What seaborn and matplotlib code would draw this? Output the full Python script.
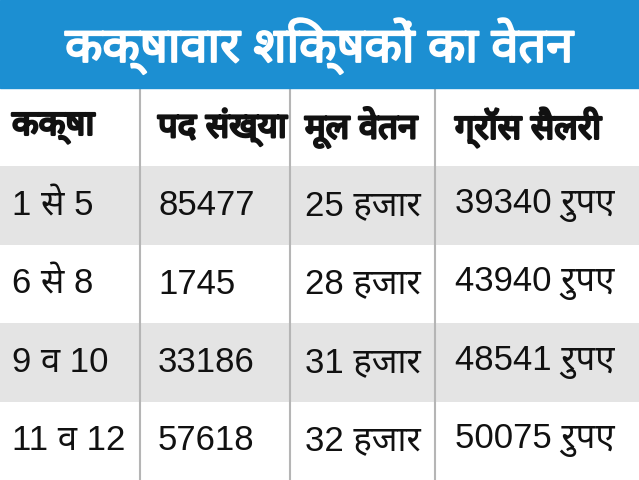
import numpy as np
import matplotlib
matplotlib.use("Agg")
import matplotlib.pyplot as plt
import matplotlib.patheffects as pe
import seaborn as sns
from matplotlib.patches import Rectangle

# table data
title = "कक्षावार शिक्षकों का वेतन"
headers = ["कक्षा", "पद संख्या", "मूल वेतन", "ग्रॉस सैलरी"]
classes = ["1 से 5", "6 से 8", "9 व 10", "11 व 12"]
posts = ["85477", "1745", "33186", "57618"]
basic_pay = ["25 हजार", "28 हजार", "31 हजार", "32 हजार"]
gross_salary = ["39340 रुपए", "43940 रुपए", "48541 रुपए", "50075 रुपए"]

sns.set_theme(style="white")
fams = ["Liberation Sans", "Noto Sans", "DejaVu Sans"]
plt.rcParams["font.family"] = fams

fig = plt.figure(figsize=(6.39, 4.8), dpi=100)

# blue title band
fig.patches.append(Rectangle((0, 1 - 88 / 480), 1, 88 / 480, transform=fig.transFigure,
                             color="#1c8fd2", zorder=0))
fig.text(0.5, 1 - 46 / 480, title, color="white", fontsize=35, fontweight="bold",
         ha="center", va="center",
         path_effects=[pe.withStroke(linewidth=1.5, foreground="white")])

# table body: row backgrounds via heatmap
ax = fig.add_axes([0, 0, 1, 392 / 480])
shade = np.array([[0], [1], [0], [1], [0]])
sns.heatmap(shade, ax=ax, cmap=["#ffffff", "#e4e4e4"], cbar=False,
            xticklabels=False, yticklabels=False)

col_x = np.array([12, 158, 305, 455]) / 639
col_lines = np.array([140, 290, 435]) / 639
for x in col_lines:
    ax.axvline(x, color="#b5b5b5", lw=1.5)

rows = [headers] + [list(r) for r in zip(classes, posts, basic_pay, gross_salary)]
for i, row in enumerate(rows):
    for j, txt in enumerate(row):
        kw = {}
        if i == 0:
            kw["path_effects"] = [pe.withStroke(linewidth=1.8, foreground="#111111")]
        ax.text(col_x[j], i + 0.5, txt, ha="left", va="center",
                fontsize=25, fontweight="bold" if i == 0 else "normal",
                color="#111111", **kw)

plt.savefig("out.png", dpi=100)
